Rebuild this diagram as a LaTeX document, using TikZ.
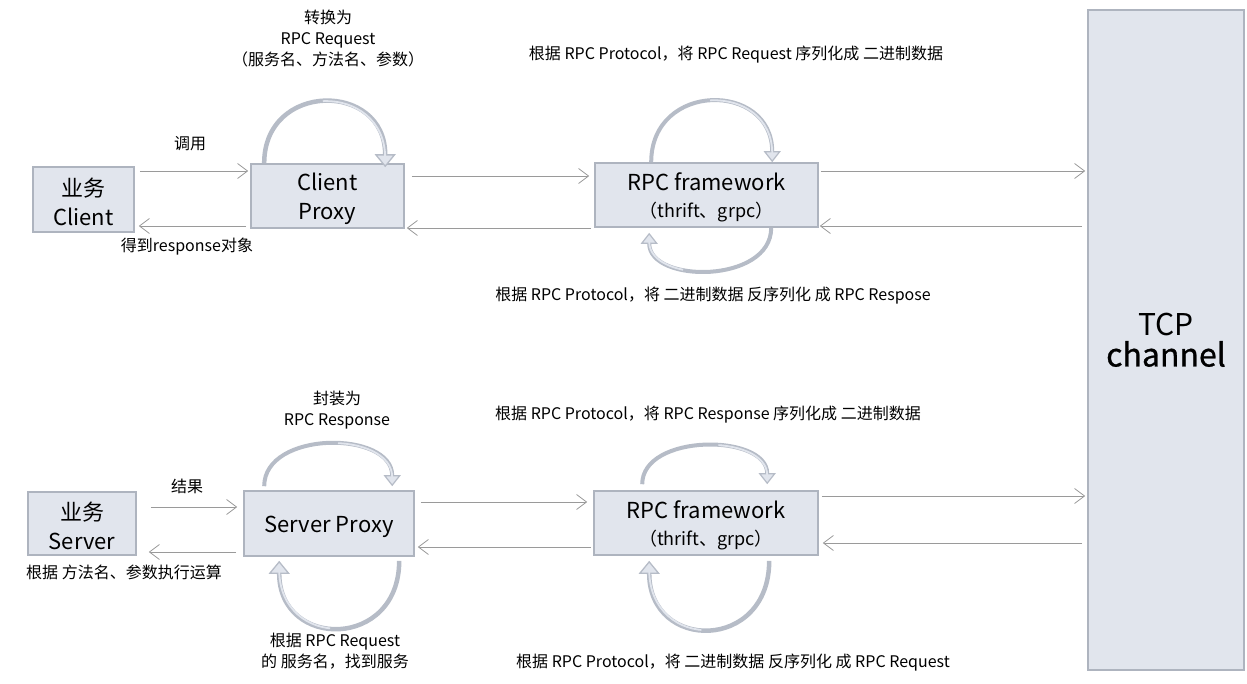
\documentclass[tikz,border=0pt]{standalone}
\usepackage{fontspec}
\setmainfont{Noto Sans CJK SC}
\newfontfamily\medfont[FakeBold=0.8]{Noto Sans CJK SC}
\usetikzlibrary{arrows.meta,calc}
\definecolor{boxfill}{HTML}{E1E5ED}
\definecolor{boxline}{HTML}{AEB4BF}
\definecolor{conngray}{HTML}{9A9A9A}
\definecolor{curlgray}{HTML}{B6BCC7}
\newcommand{\topstrut}[1]{\rule{0pt}{#1}}
\tikzset{
  box/.style={draw=boxline, fill=boxfill, line width=1.6pt, inner sep=0pt, align=center, font=\fontsize{22}{29}\selectfont},
  lbl/.style={inner sep=0pt, align=center, font=\fontsize{16}{21}\selectfont},
  conn/.style={draw=conngray, line width=0.8pt, -{Straight Barb[length=10pt,width=15pt,line width=0.8pt 0]}},
  curl/.style={draw=curlgray, line width=4.5pt, -{Triangle[open, fill=boxfill, length=13pt, width=21pt, line width=1.3pt 0]}},
  curlsmall/.style={draw=curlgray, line width=4pt, -{Triangle[open, fill=boxfill, length=11pt, width=17pt, line width=1.2pt 0]}},
  hollow/.style={draw=boxfill, line width=1.8pt, dash pattern=on 0pt off #1 on 500pt, shorten >=9pt},
}
\begin{document}
\begin{tikzpicture}[x=1pt,y=-1pt]
\useasboundingbox (0,0) rectangle (1247,683);

% boxes
\node[box, minimum width=101pt, minimum height=65pt] (client) at (83.5,199.5) {\topstrut{24pt}业务\\Client};
\node[box, minimum width=153pt, minimum height=64pt] (cproxy) at (327.5,196) {\topstrut{23pt}Client\\Proxy};
\node[box, minimum width=223pt, minimum height=64pt] (rpca) at (706.5,195) {\topstrut{22pt}RPC framework\\[-2pt]{\fontsize{18}{22}\selectfont （thrift、grpc）}};
\node[box, minimum width=156pt, minimum height=660pt] (tcp) at (1166,340) {{\fontsize{30}{36}\selectfont TCP}\\[2pt]{\fontsize{32}{36}\selectfont\medfont channel}};
\node[box, minimum width=108pt, minimum height=63pt] (server) at (82,523.5) {\topstrut{24pt}业务\\Server};
\node[box, minimum width=170pt, minimum height=65pt] (sproxy) at (329,523.5) {\topstrut{24pt}Server Proxy};
\node[box, minimum width=224pt, minimum height=64pt] (rpcb) at (706,523) {\topstrut{22pt}RPC framework\\[-2pt]{\fontsize{18}{22}\selectfont （thrift、grpc）}};

% connectors top row
\draw[conn] ([xshift=5pt]client.east |- 0,171) -- ([xshift=-2pt]cproxy.west |- 0,171);
\draw[conn] ([xshift=-4pt]cproxy.west |- 0,226) -- ([xshift=4pt]client.east |- 0,226);
\draw[conn] ([xshift=7pt]cproxy.east |- 0,176) -- ([xshift=-5pt]rpca.west |- 0,176);
\draw[conn] ([xshift=-3pt]rpca.west |- 0,228) -- ([xshift=2pt]cproxy.east |- 0,228);
\draw[conn] ([xshift=2pt]rpca.east |- 0,171) -- ([xshift=-2pt]tcp.west |- 0,171);
\draw[conn] ([xshift=-5pt]tcp.west |- 0,226) -- ([xshift=1pt]rpca.east |- 0,226);

% connectors bottom row
\draw[conn] ([xshift=14pt]server.east |- 0,507) -- ([xshift=-6pt]sproxy.west |- 0,507);
\draw[conn] ([xshift=-7pt]sproxy.west |- 0,552) -- ([xshift=12pt]server.east |- 0,552);
\draw[conn] ([xshift=6pt]sproxy.east |- 0,502) -- ([xshift=-6pt]rpcb.west |- 0,502);
\draw[conn] ([xshift=-2pt]rpcb.west |- 0,547) -- ([xshift=3pt]sproxy.east |- 0,547);
\draw[conn] ([xshift=3pt]rpcb.east |- 0,496) -- ([xshift=-2pt]tcp.west |- 0,496);
\draw[conn] ([xshift=-5pt]tcp.west |- 0,543) -- ([xshift=4pt]rpcb.east |- 0,543);

% self loops
\coordinate (c1s) at ($(cproxy.north west)+(14,0)$);
\coordinate (c1e) at ($(cproxy.north west)+(135,4)$);
\draw[curl] (c1s) .. controls ($(c1s)+(0,-82)$) and ($(c1e)+(0,-86)$) .. (c1e);
\draw[hollow=95pt] (c1s) .. controls ($(c1s)+(0,-82)$) and ($(c1e)+(0,-86)$) .. (c1e);

\coordinate (c2s) at ($(rpca.north west)+(57,0)$);
\coordinate (c2e) at ($(rpca.north west)+(178,0)$);
\draw[curlsmall] (c2s) .. controls ($(c2s)+(0,-81)$) and ($(c2e)+(0,-81)$) .. (c2e);
\draw[hollow=95pt] (c2s) .. controls ($(c2s)+(0,-81)$) and ($(c2e)+(0,-81)$) .. (c2e);

\coordinate (c3s) at ($(rpca.south west)+(177,0)$);
\coordinate (c3e) at ($(rpca.south west)+(55,5)$);
\draw[curlsmall] (c3s) .. controls ($(c3s)+(0,56)$) and ($(c3e)+(0,51)$) .. (c3e);
\draw[hollow=110pt] (c3s) .. controls ($(c3s)+(0,56)$) and ($(c3e)+(0,51)$) .. (c3e);

\coordinate (c4s) at ($(sproxy.north west)+(21,-4)$);
\coordinate (c4e) at ($(sproxy.north west)+(149,-4)$);
\draw[curlsmall] (c4s) .. controls ($(c4s)+(0,-56)$) and ($(c4e)+(0,-56)$) .. (c4e);
\draw[hollow=95pt] (c4s) .. controls ($(c4s)+(0,-56)$) and ($(c4e)+(0,-56)$) .. (c4e);

\coordinate (c5s) at ($(sproxy.south west)+(156,4)$);
\coordinate (c5e) at ($(sproxy.south west)+(36,4)$);
\draw[curl] (c5s) .. controls ($(c5s)+(0,89)$) and ($(c5e)+(0,89)$) .. (c5e);
\draw[hollow=110pt] (c5s) .. controls ($(c5s)+(0,89)$) and ($(c5e)+(0,89)$) .. (c5e);

\coordinate (c6s) at ($(rpcb.north west)+(49,-6)$);
\coordinate (c6e) at ($(rpcb.north west)+(174,-6)$);
\draw[curlsmall] (c6s) .. controls ($(c6s)+(0,-51)$) and ($(c6e)+(0,-51)$) .. (c6e);
\draw[hollow=95pt] (c6s) .. controls ($(c6s)+(0,-51)$) and ($(c6e)+(0,-51)$) .. (c6e);

\coordinate (c7s) at ($(rpcb.south west)+(176,5)$);
\coordinate (c7e) at ($(rpcb.south west)+(56,5)$);
\draw[curl] (c7s) .. controls ($(c7s)+(0,91)$) and ($(c7e)+(0,91)$) .. (c7e);
\draw[hollow=110pt] (c7s) .. controls ($(c7s)+(0,91)$) and ($(c7e)+(0,91)$) .. (c7e);

% labels
\node[lbl] (l1) at (328,39) {转换为\\RPC Request\\（服务名、方法名、参数）};
\node[lbl] (l2) at (190,144) {调用};
\node[lbl] (l3) at (187,247) {得到response对象};
\node[lbl] (l4) at (736,55) {根据 RPC Protocol，将 RPC Request 序列化成 二进制数据};
\node[lbl] (l5) at (713,296) {根据 RPC Protocol，将 二进制数据 反序列化 成 RPC Respose};
\node[lbl] (l6) at (337,410) {封装为\\RPC Response};
\node[lbl] (l7) at (708,415) {根据 RPC Protocol，将 RPC Response 序列化成 二进制数据};
\node[lbl] (l8) at (187,486) {结果};
\node[lbl] (l9) at (124,572) {根据 方法名、参数执行运算};
\node[lbl] (l10) at (335,651) {根据 RPC Request\\的 服务名，找到服务};
\node[lbl] (l11) at (733,663) {根据 RPC Protocol，将 二进制数据 反序列化 成 RPC Request};
\end{tikzpicture}
\end{document}
